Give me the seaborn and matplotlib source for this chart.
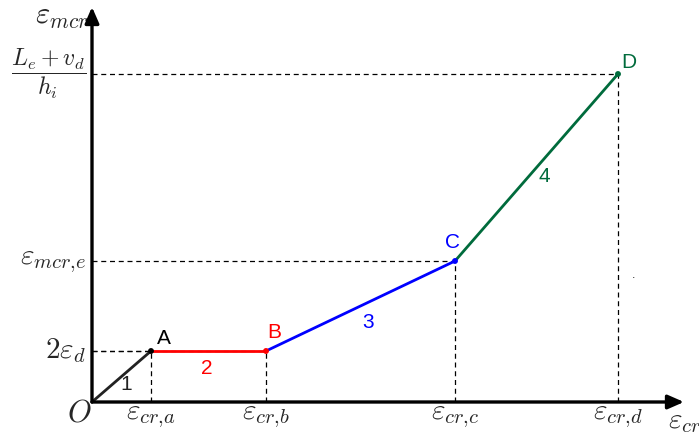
import matplotlib
matplotlib.use("Agg")
import matplotlib.pyplot as plt
import seaborn as sns
import pandas as pd

# Characteristic points of the piecewise-linear curve (O, A, B, C, D)
point_names = ["O", "A", "B", "C", "D"]
eps_cr = [0, 59, 174, 363, 526]
eps_mcr = [0, 51, 51, 141, 328]

# Segment numbers and colours
segment_ids = ["1", "2", "3", "4"]
segment_colors = ["#222222", "#ff0000", "#0000ff", "#006b3c"]

# Axis labels for the characteristic values
x_tick_labels = [r"$\varepsilon_{cr{,}a}$", r"$\varepsilon_{cr{,}b}$",
                 r"$\varepsilon_{cr{,}c}$", r"$\varepsilon_{cr{,}d}$"]
y_tick_labels = [r"$2\varepsilon_d$", r"$\varepsilon_{mcr{,}e}$",
                 r"$\dfrac{L_e+v_d}{h_i}$"]
y_tick_points = [1, 3, 4]

sns.set_theme(style="white")
plt.rcParams["mathtext.fontset"] = "cm"
plt.rcParams["font.family"] = ["Liberation Sans", "DejaVu Sans"]

rows = []
for i, seg in enumerate(segment_ids):
    rows.append({"seg": seg, "x": eps_cr[i], "y": eps_mcr[i]})
    rows.append({"seg": seg, "x": eps_cr[i + 1], "y": eps_mcr[i + 1]})
df = pd.DataFrame(rows)

fig = plt.figure(figsize=(6.99, 4.34), dpi=100)
ax = fig.add_axes([0, 0, 1, 1])
ax.set_xlim(-92, 607)
ax.set_ylim(-32, 402)
ax.axis("off")

# Guide lines from each point to both axes
for k in range(1, 5):
    ax.plot([0, eps_cr[k]], [eps_mcr[k], eps_mcr[k]], ls=(0, (4, 3)),
            color="black", lw=0.9, zorder=1)
    ax.plot([eps_cr[k], eps_cr[k]], [0, eps_mcr[k]], ls=(0, (4, 3)),
            color="black", lw=0.9, zorder=1)

# Curve segments
sns.lineplot(data=df, x="x", y="y", hue="seg", palette=segment_colors,
             estimator=None, sort=False, units="seg", linewidth=2.0,
             legend=False, ax=ax, zorder=3)

# Points A..D
point_colors = ["black", "#ff0000", "#0000ff", "#006b3c"]
pts = pd.DataFrame({"x": eps_cr[1:], "y": eps_mcr[1:], "name": point_names[1:]})
sns.scatterplot(data=pts, x="x", y="y", hue="name", palette=point_colors,
                s=18, linewidth=0, legend=False, ax=ax, zorder=4)

# Axes with arrowheads
for tip in [(592, 0), (0, 395)]:
    ax.annotate("", xy=tip, xytext=(0, 0),
                arrowprops=dict(arrowstyle="-|>,head_length=0.8,head_width=0.35",
                                color="black", lw=2.4, shrinkA=0, shrinkB=0),
                zorder=5)

# Point letters
name_offsets = [(13, 13), (8, 18), (-3, 19), (11, 11)]
for k in range(1, 5):
    dx, dy = name_offsets[k - 1]
    ax.text(eps_cr[k] + dx, eps_mcr[k] + dy, point_names[k],
            color=point_colors[k - 1], fontsize=15, ha="center", va="center")

# Segment numbers
seg_label_pos = [(34, 18), (115, 34), (276, 79), (452, 226)]
for (sx, sy), seg, col in zip(seg_label_pos, segment_ids, segment_colors):
    ax.text(sx, sy, seg, color=col, fontsize=15, ha="center", va="center")

# Characteristic-value labels along the axes
for k, lab in zip(range(1, 5), x_tick_labels):
    ax.text(eps_cr[k], -14, lab, fontsize=21, ha="center", va="center")
for k, lab in zip(y_tick_points, y_tick_labels):
    ax.text(-6, eps_mcr[k], lab, fontsize=21 if k != 4 else 17,
            ha="right", va="center")

ax.text(-13, -12, r"$O$", fontsize=22, ha="center", va="center")
ax.text(-3, 386, r"$\varepsilon_{mcr}$", fontsize=22, ha="right", va="center")
ax.text(576, -19, r"$\varepsilon_{cr}$", fontsize=21, ha="left", va="center")
ax.text(542, 127, ".", fontsize=9, ha="center", va="center")

fig.savefig("out.png", dpi=100)
